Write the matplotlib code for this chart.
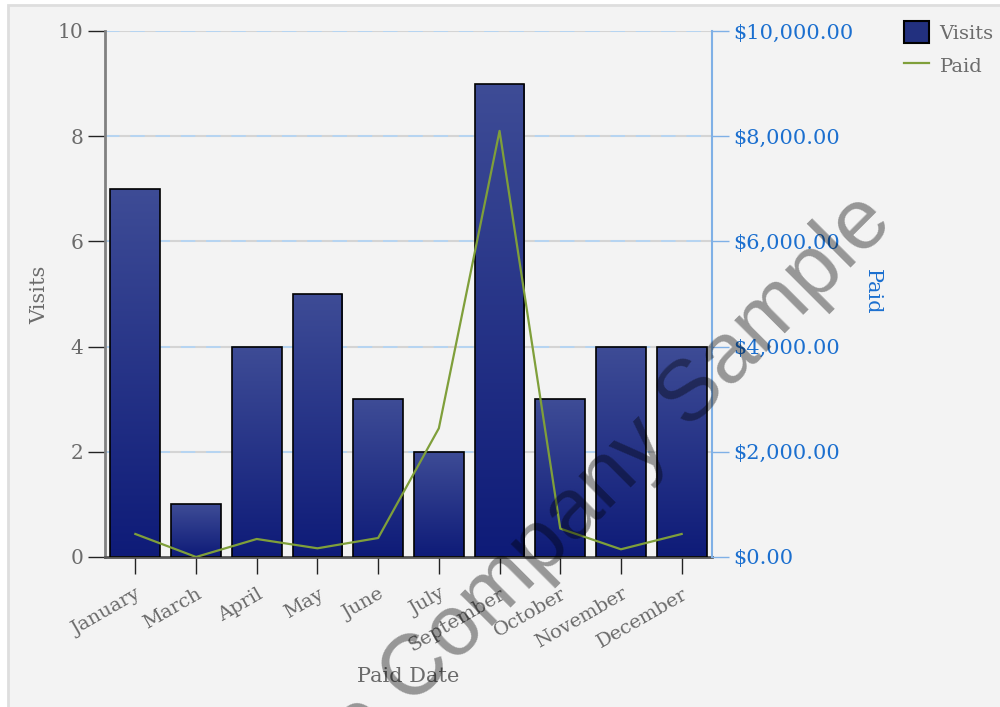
import matplotlib.pyplot as plt
import numpy as np
from matplotlib.patches import Rectangle
from matplotlib.lines import Line2D
from matplotlib.colors import LinearSegmentedColormap
from matplotlib.ticker import FuncFormatter

months = ['January', 'March', 'April', 'May', 'June', 'July',
          'September', 'October', 'November', 'December']
visits = [7, 1, 4, 5, 3, 2, 9, 3, 4, 4]
paid = [437, 0, 342, 165, 361, 2447, 8100, 540, 146, 437]

GRAY_TEXT = '#6b6b6b'
BLUE_TEXT = '#1b6fcf'
BLUE_SPINE = '#7fb0e6'
LINE_GREEN = '#7f9f3a'

plt.rcParams['font.family'] = ['DejaVu Serif']
plt.rcParams['font.size'] = 14

bar_cmap = LinearSegmentedColormap.from_list('bars', ['#0e1b78', '#3e4c96'])


def dollars(v, pos):
    return '${:,.2f}'.format(v)


def gradient_bar(ax, x, h, width):
    """Draw one bar filled with a vertical gradient, clipped to its outline."""
    rect = Rectangle((x - width / 2, 0), width, h, facecolor='none',
                     edgecolor='black', linewidth=1.2, zorder=3)
    ax.add_patch(rect)
    grad = np.linspace(0, 1, 256).reshape(-1, 1)
    im = ax.imshow(grad, cmap=bar_cmap, origin='lower', aspect='auto',
                   extent=(x - width / 2, x + width / 2, 0, h), zorder=2)
    im.set_clip_path(rect)


fig = plt.figure(figsize=(10, 7.07), dpi=100)
fig.patch.set_facecolor('white')
fig.patches.append(Rectangle((0.008, -0.01), 1.0, 1.01 - 0.007,
                             transform=fig.transFigure, facecolor='#f3f3f3',
                             edgecolor='#dedede', linewidth=2, zorder=-10))

ax = fig.add_axes([0.105, 0.2122, 0.607, 0.744])
ax.set_facecolor('none')
ax2 = ax.twinx()

x = np.arange(len(months))
for xi, v in zip(x, visits):
    gradient_bar(ax, xi, v, 0.82)

ax.set_xlim(-0.5, len(months) - 0.5)
ax.set_ylim(0, 10)
ax.set_yticks(range(0, 11, 2))

# both axes share the same grid rows: solid gray for visits, dashed blue for paid
for yv in ax.get_yticks()[1:]:
    ax.axhline(yv, color='#d4d4d4', linewidth=1.5, zorder=0.5)
    ax.axhline(yv, color='#b3d5f5', linewidth=1.3, linestyle=(0, (8, 6)),
               zorder=0.6)

ax.set_xticks(x)
ax.set_xticklabels(months, rotation=30, ha='right', rotation_mode='anchor',
                   color=GRAY_TEXT, fontsize=14)
ax.tick_params(axis='x', length=12, width=1, color='#222222', pad=8)
ax.tick_params(axis='y', length=12, width=1, color='#222222', labelcolor=GRAY_TEXT,
               labelsize=14.5)
ax.spines['top'].set_visible(False)
ax.spines['right'].set_visible(False)
ax.spines['left'].set_color('#808080')
ax.spines['left'].set_linewidth(2)
ax.spines['bottom'].set_color('#555555')
ax.spines['bottom'].set_linewidth(2)
ax.set_ylabel('Visits', color=GRAY_TEXT, fontsize=15)
ax.yaxis.set_label_coords(-0.092, 0.498)
ax.set_xlabel('Paid Date', color=GRAY_TEXT, fontsize=15, labelpad=9)

ax2.plot(x, paid, color=LINE_GREEN, linewidth=1.6, zorder=5)
ax2.set_ylim(0, 10000)
ax2.set_yticks(range(0, 10001, 2000))
ax2.yaxis.set_major_formatter(FuncFormatter(dollars))
ax2.tick_params(axis='y', length=12, width=1, color=BLUE_SPINE,
                labelcolor=BLUE_TEXT, labelsize=15)
for side in ('top', 'left', 'bottom'):
    ax2.spines[side].set_visible(False)
ax2.spines['right'].set_color(BLUE_SPINE)
ax2.spines['right'].set_linewidth(1.5)
ax2.set_ylabel('Paid', color=BLUE_TEXT, fontsize=15, rotation=270)
ax2.yaxis.set_label_coords(1.28, 0.505)

handles = [Rectangle((0, 0), 1, 1, facecolor='#22307f', edgecolor='black',
                     linewidth=1.5),
           Line2D([0], [0], color=LINE_GREEN, linewidth=1.6)]
leg = fig.legend(handles, ['Visits', 'Paid'], loc='upper left',
                 bbox_to_anchor=(0.886, 0.995), frameon=False, fontsize=14,
                 handlelength=1.3, handleheight=1.4, handletextpad=0.55,
                 labelspacing=0.55)
for t in leg.get_texts():
    t.set_color(GRAY_TEXT)

fig.text(0.525, 1 - 562 / 707, 'Sample Company Sample', family='Liberation Sans',
         fontsize=62, rotation=45, color='black', alpha=0.38,
         ha='center', va='center', zorder=20)

fig.savefig('out.png', dpi=100)
